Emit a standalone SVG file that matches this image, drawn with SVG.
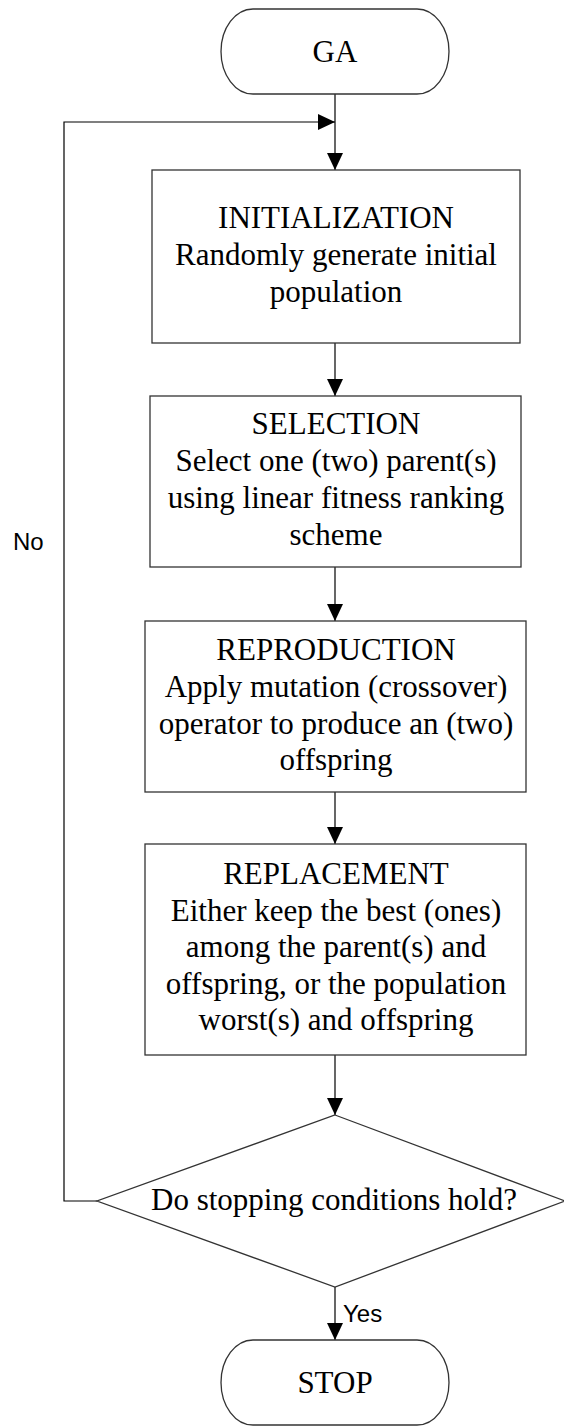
<svg xmlns="http://www.w3.org/2000/svg" width="564" height="1426" viewBox="0 0 564 1426">
<style>
.shape{fill:#fff;stroke:#333;stroke-width:1.3}
.conn{fill:none;stroke:#000;stroke-width:1.2}
.t{font-family:"Liberation Serif","Times New Roman",serif;font-size:31px;fill:#000;text-anchor:middle}
.lbl{font-family:"Liberation Sans",Arial,sans-serif;font-size:24px;fill:#000}
</style>
<defs>
<marker id="arr" markerUnits="userSpaceOnUse" markerWidth="17" markerHeight="16" refX="17" refY="8" orient="auto">
<path d="M0,0 L17,8 L0,16 z" fill="#000"/>
</marker>
</defs>
<rect width="564" height="1426" fill="#fff"/>
<g id="connectors">
<line class="conn" x1="335" y1="94" x2="335" y2="170" marker-end="url(#arr)"/>
<polyline class="conn" points="97,1201 64,1201 64,122 335,122" marker-end="url(#arr)"/>
<line class="conn" x1="335" y1="343" x2="335" y2="396" marker-end="url(#arr)"/>
<line class="conn" x1="335" y1="567" x2="335" y2="621" marker-end="url(#arr)"/>
<line class="conn" x1="335" y1="792" x2="335" y2="844" marker-end="url(#arr)"/>
<line class="conn" x1="335" y1="1055" x2="335" y2="1115" marker-end="url(#arr)"/>
<line class="conn" x1="335" y1="1287" x2="335" y2="1340" marker-end="url(#arr)"/>
<text class="lbl" x="13" y="550">No</text>
<text class="lbl" x="343" y="1322">Yes</text>
</g>
<g id="ga">
<rect class="shape" x="221" y="9" width="228" height="85" rx="32" ry="42.5"/>
<text class="t" x="335" y="62">GA</text>
</g>
<g id="initialization">
<rect class="shape" x="152" y="170" width="368" height="173"/>
<text class="t" x="336" y="228">INITIALIZATION</text>
<text class="t" x="336" y="265">Randomly generate initial</text>
<text class="t" x="336" y="302">population</text>
</g>
<g id="selection">
<rect class="shape" x="150" y="396" width="371" height="171"/>
<text class="t" x="336" y="434">SELECTION</text>
<text class="t" x="336" y="471">Select one (two) parent(s)</text>
<text class="t" x="336" y="508">using linear fitness ranking</text>
<text class="t" x="336" y="545">scheme</text>
</g>
<g id="reproduction">
<rect class="shape" x="145" y="621" width="381" height="171"/>
<text class="t" x="336" y="660">REPRODUCTION</text>
<text class="t" x="336" y="697">Apply mutation (crossover)</text>
<text class="t" x="336" y="734">operator to produce an (two)</text>
<text class="t" x="336" y="770">offspring</text>
</g>
<g id="replacement">
<rect class="shape" x="145" y="844" width="381" height="211"/>
<text class="t" x="336" y="884">REPLACEMENT</text>
<text class="t" x="336" y="921">Either keep the best (ones)</text>
<text class="t" x="336" y="957">among the parent(s) and</text>
<text class="t" x="336" y="994">offspring, or the population</text>
<text class="t" x="336" y="1030">worst(s) and offspring</text>
</g>
<g id="decision">
<polygon class="shape" points="335,1115 565,1201 335,1287 97,1201"/>
<text class="t" x="334" y="1210">Do stopping conditions hold?</text>
</g>
<g id="stop">
<rect class="shape" x="221" y="1340" width="228" height="85" rx="32" ry="42.5"/>
<text class="t" x="335" y="1393">STOP</text>
</g>
</svg>
